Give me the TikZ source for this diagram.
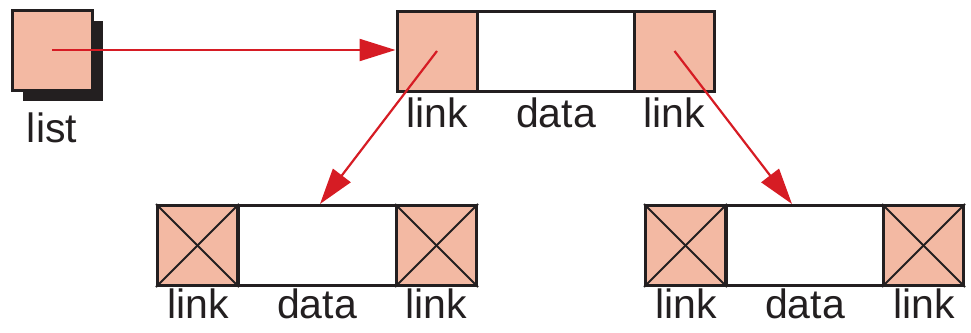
\documentclass[tikz,border=0pt]{standalone}
\usepackage{fontspec}
\setmainfont{Liberation Sans}
\usetikzlibrary{arrows.meta,shadows}
\definecolor{linkfill}{RGB}{243,185,163}
\definecolor{ptrred}{RGB}{214,28,36}
\definecolor{ink}{RGB}{35,31,32}
\tikzset{
  cell/.style={draw=ink, line width=3pt, inner sep=0pt, minimum height=80pt},
  linkcell/.style={cell, fill=linkfill, minimum width=80pt},
  datacell/.style={cell, fill=white, minimum width=158pt},
  lbl/.style={anchor=base, inner sep=0pt, text=ink, font=\fontsize{41}{48}\selectfont},
  ptr/.style={draw=ptrred, line width=2.2pt, -{Triangle[length=36pt,width=22pt]}},
  nilx/.style={draw=ink, line width=2pt}
}
\begin{document}
\begin{tikzpicture}[x=1pt,y=-1pt]
\useasboundingbox (0,0) rectangle (971,332);

% head pointer box with shadow
\node[linkcell, drop shadow={shadow xshift=11pt, shadow yshift=-11pt, fill=ink, opacity=1}] (list) at (52,50) {};
\node[lbl] (listlbl) at (52,142) {list};

% top node
\node[linkcell] (t1) at (437,51) {};
\node[datacell] (t2) at (556,51) {};
\node[linkcell] (t3) at (674.5,51) {};
\node[lbl] (t1lbl) at (437,127) {link};
\node[lbl] (t2lbl) at (556,127) {data};
\node[lbl] (t3lbl) at (674,127) {link};

% lower left node
\node[linkcell] (l1) at (197.5,245.5) {};
\node[datacell] (l2) at (317,245.5) {};
\node[linkcell] (l3) at (436.5,245.5) {};
\node[lbl] (l1lbl) at (198,318) {link};
\node[lbl] (l2lbl) at (317,318) {data};
\node[lbl] (l3lbl) at (436,318) {link};

% lower right node
\node[linkcell] (r1) at (685.5,245.5) {};
\node[datacell] (r2) at (805,245.5) {};
\node[linkcell] (r3) at (923.5,245.5) {};
\node[lbl] (r1lbl) at (686,318) {link};
\node[lbl] (r2lbl) at (805,318) {data};
\node[lbl] (r3lbl) at (924,318) {link};

% null links
\foreach \c in {l1,l3,r1,r3}{
  \draw[nilx] (\c.north west) -- (\c.south east);
  \draw[nilx] (\c.south west) -- (\c.north east);
}

% pointers
\coordinate (rtarget) at ([xshift=-13pt]r2.north);
\coordinate (ltarget) at ([xshift=3pt]l2.north);
\draw[ptr] (list.center) -- (list.center -| t1.west);
\draw[ptr] (t1.center) -- (ltarget);
\draw[ptr] (t3.center) -- (rtarget);
\end{tikzpicture}
\end{document}
